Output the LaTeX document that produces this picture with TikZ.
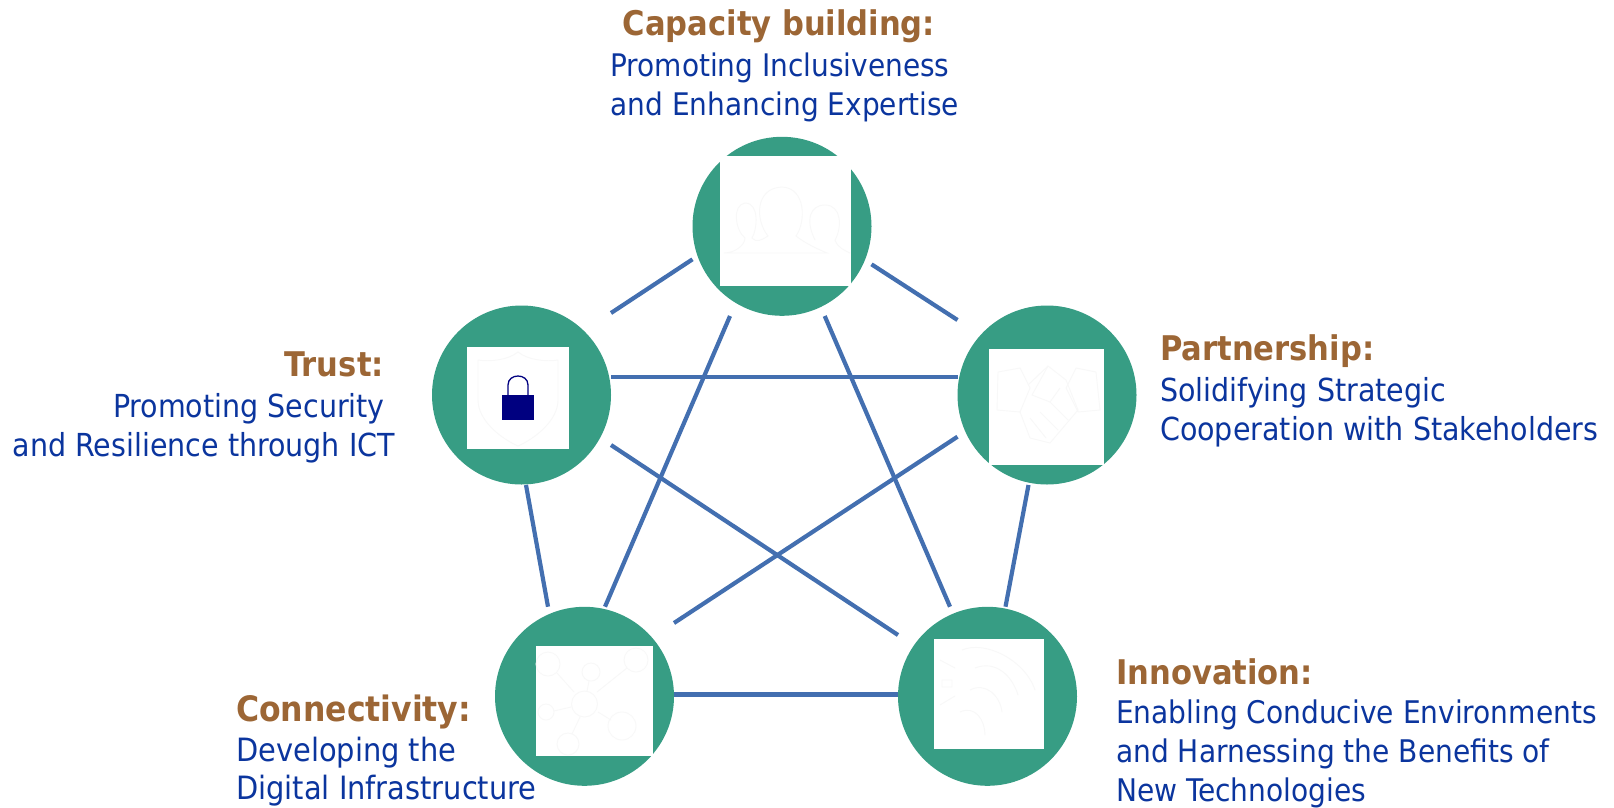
\documentclass[tikz,border=0pt]{standalone}
\usepackage{fontspec}
\setmainfont{DejaVu Sans Condensed}
\definecolor{hubgreen}{HTML}{379D84}
\definecolor{linkblue}{HTML}{436FB0}
\definecolor{headbrown}{HTML}{9C6635}
\definecolor{bodyblue}{HTML}{0B359E}
\definecolor{locknavy}{HTML}{000080}
\definecolor{faint}{HTML}{F8F8F8}
\newcommand\hd[2][34]{{\fontsize{#1}{39}\selectfont\bfseries\color{headbrown}#2}}
\tikzset{
  hub/.style={circle,fill=hubgreen,minimum size=179pt,inner sep=0pt},
  panel/.style={rectangle,fill=white,inner sep=0pt},
  link/.style={draw=linkblue,line width=4.2pt,line cap=butt},
  level/.style={link,line width=4.8pt},
  block/.style={inner sep=0pt,text=bodyblue,font=\fontsize{#1}{39}\selectfont},
  block/.default=31.7,
  icon/.style={draw=faint,line width=0.9pt}
}
\begin{document}
\begin{tikzpicture}[x=1pt,y=-1pt]
\useasboundingbox (0,0) rectangle (1614,807);
% hubs
\node[hub] (top) at (782,226.3) {};
\node[hub] (left) at (521.5,395) {};
\node[hub] (right) at (1047,395) {};
\node[hub] (bl) at (584.5,696.3) {};
\node[hub] (br) at (987.5,696.3) {};
% connectors
\draw[link] ([shift={(-89.5,33)}]top.center) -- ([shift={(89.5,-82)}]left.center);
\draw[link] ([shift={(89.5,38)}]top.center) -- ([shift={(-89.5,-75)}]right.center);
\draw[level] ([shift={(89.5,-18)}]left.center) -- ([shift={(-89.5,-18)}]right.center);
\draw[link] ([shift={(-52,89.7)}]top.center) -- ([shift={(20.5,-89.6)}]bl.center);
\draw[link] ([shift={(42.7,89.7)}]top.center) -- ([shift={(-37.5,-89.6)}]br.center);
\draw[link] ([shift={(89.5,50)}]left.center) -- ([shift={(-89.5,-61.3)}]br.center);
\draw[link] ([shift={(-89.5,41.7)}]right.center) -- ([shift={(89.5,-73.3)}]bl.center);
\draw[link] ([shift={(4.5,90)}]left.center) -- ([shift={(-36.5,-89.6)}]bl.center);
\draw[link] ([shift={(-18.5,90)}]right.center) -- ([shift={(18,-89.6)}]br.center);
\draw[level] ([shift={(89.5,-2)}]bl.center) -- ([shift={(-89.5,-2)}]br.center);
% white panels
\node[panel,minimum width=130.7pt,minimum height=130pt] (ptop) at (785.3,220.7) {};
\node[panel,minimum width=102pt,minimum height=102pt] (pleft) at (518,398) {};
\node[panel,minimum width=115.4pt,minimum height=116pt] (pright) at (1046.7,407) {};
\node[panel,minimum width=117pt,minimum height=109.7pt] (pbl) at (594.5,700.8) {};
\node[panel,minimum width=110pt,minimum height=109.7pt] (pbr) at (989,693.8) {};
% lock and shield
\draw[icon] (518,352) .. controls (508,360) and (490,362) .. (478,360) -- (478,400) .. controls (478,420) and (500,438) .. (518,446) .. controls (536,438) and (558,420) .. (558,400) -- (558,360) .. controls (546,362) and (528,360) .. (518,352) -- cycle;
\fill[locknavy] (501.6,395) rectangle (534,420);
\draw[locknavy,line width=1.3pt] (508,395) -- (508,385) .. controls (508,373) and (528,373) .. (528,385) -- (528,395);
% people
\draw[icon] (724,253) .. controls (735,253) and (745,245) .. (745,238) .. controls (735,230) and (732,205) .. (745,203) .. controls (760,203) and (757,230) .. (752,238) .. controls (756,243) and (762,240) .. (768,236) .. controls (755,220) and (755,188) .. (782,187) .. controls (806,188) and (806,222) .. (796,236) .. controls (806,244) and (820,250) .. (827,253) -- cycle;
\draw[icon] (815,240) .. controls (805,220) and (810,205) .. (825,205) .. controls (842,205) and (842,228) .. (835,240) .. controls (838,248) and (844,250) .. (850,253);
% handshake
\draw[icon] (998,372) -- (1020,368) -- (1030,388) -- (1020,412) -- (997,410) -- cycle;
\draw[icon] (1096,372) -- (1076,368) -- (1066,388) -- (1078,412) -- (1100,410) -- cycle;
\draw[icon] (1028,385) -- (1048,366) -- (1066,380) -- (1078,410) -- (1050,443) -- (1030,438) -- (1020,412);
\draw[icon] (1048,366) -- (1032,395) -- (1050,402) -- (1060,388);
\draw[icon] (1040,412) -- (1058,430) (1030,418) -- (1046,438) (1050,402) -- (1068,420);
% network
\draw[icon] (584.5,704) circle (13);
\draw[icon] (548,664) circle (12) (591,672) circle (9) (636,660) circle (12) (546,712) circle (8) (622,726) circle (14) (568,744) circle (11);
\draw[icon] (557,673) -- (574,692) (589,681) -- (587,691) (627,668) -- (597,692) (554,711) -- (571,707) (598,712) -- (611,720) (580,717) -- (572,734);
% innovation (faint)
\draw[icon] (940,660) -- (955,668) (942,680) rectangle (952,687) (940,705) -- (955,696) (962,650) .. controls (985,640) and (1025,660) .. (1035,690) (975,668) .. controls (995,660) and (1012,675) .. (1018,695) (970,690) .. controls (985,682) and (1000,695) .. (1002,712) (960,712) .. controls (975,705) and (985,720) .. (985,735);
% texts
\node[block=31.1,anchor=north,align=center] (tcap) at (785,9) {\hd{Capacity building:}\hspace*{12pt}\\[2pt]Promoting Inclusiveness\kern10pt\mbox{}\\and Enhancing Expertise};
\node[block=31.7,anchor=north east,align=right] (ttrust) at (395,352) {\hd{Trust:}\hspace*{11pt}\\[2pt]Promoting Security\kern10pt\mbox{}\\and Resilience through ICT};
\node[block=31.7,anchor=north west,align=left] (tpart) at (1160,334) {\hd{Partnership:}\\[2pt]Solidifying Strategic\\Cooperation with Stakeholders};
\node[block=32.1,anchor=north west,align=left] (tconn) at (236,695) {\hd[35]{Connectivity:}\\[1pt]Developing the\\[-1pt]Digital Infrastructure};
\node[block=31.2,anchor=north west,align=left] (tinno) at (1116,658) {\hd{Innovation:}\\Enabling Conducive Environments\\and Harnessing the Benefits of\\New Technologies};
\end{tikzpicture}
\end{document}
